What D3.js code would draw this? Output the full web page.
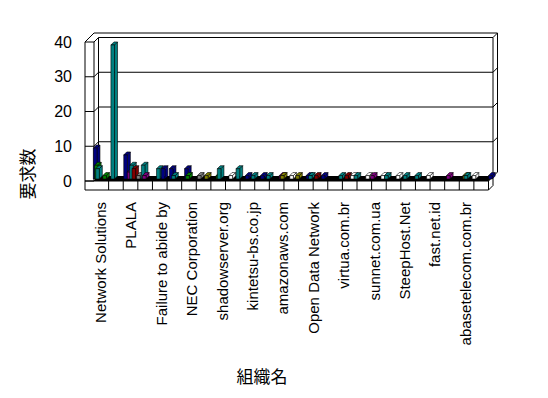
<!DOCTYPE html>
<html>
<head>
<meta charset="utf-8">
<script src="https://cdn.jsdelivr.net/npm/d3@7"></script>
<style>
body { margin: 0; background: #fff; }
text { font-family: "Liberation Sans", Arial, sans-serif; fill: #000; }
.cjk { font-family: "Noto Sans CJK JP", sans-serif; }
</style>
</head>
<body>
<svg id="chart" width="548" height="398"></svg>
<script>
// organisations (only every other name is printed on the axis, like the original)
var orgNames = ["Network Solutions", "", "PLALA", "", "Failure to abide by", "", "NEC Corporation", "",
  "shadowserver.org", "", "kintetsu-bs.co.jp", "", "amazonaws.com", "", "Open Data Network", "",
  "virtua.com.br", "", "sunnet.com.ua", "", "SteepHost.Net", "", "fast.net.id", "",
  "abasetelecom.com.br", "", ""];
var yTicks = [0, 10, 20, 30, 40];

var seriesNames = ["s1", "s2", "s3", "s4", "s5", "s6", "s7", "s8", "s9", "s10", "s11"];
var seriesColors = ["#808080", "#ffffff", "#000080", "#008000", "#008080", "#800080",
  "#808000", "#008080", "#000080", "#800000", "#008000"];

var s1  = [0,0,0,1,0,0,0,1,0,0,0,0,0,0,0,0,0,0,0,0,0,0,0,0,0,0,0];
var s2  = [0,0,0,0,0,0,0,0,0,1,0,0,0,1,0,0,0,1,1,1,1,0,1,0,0,1,0];
var s3  = [9,0,7,0,0,3,3,0,0,0,1,1,0,0,1,1,0,0,0,0,0,0,0,0,0,0,1];
var s4  = [4,0,0,0,0,0,1,0,1,0,0,0,0,0,0,0,0,0,0,0,0,0,0,0,0,0,0];
var s5  = [3,39,0,4,3,1,0,0,3,0,0,0,0,0,1,0,1,1,0,1,0,1,0,0,0,0,0];
var s6  = [0,0,2,1,0,0,0,0,0,0,0,0,1,0,0,0,0,0,1,0,0,0,0,1,0,0,0];
var s7  = [0,0,0,0,0,0,0,1,0,0,0,0,1,1,0,0,0,0,0,0,0,0,0,0,1,0,0];
var s8  = [0,0,4,0,0,0,0,0,0,3,1,1,0,0,0,0,0,0,0,0,1,0,0,0,1,0,0];
var s9  = [0,0,0,0,3,0,0,0,0,0,0,0,0,0,0,0,0,0,0,0,0,0,0,0,0,0,0];
var s10 = [0,0,3,0,0,0,0,0,0,0,0,0,0,0,1,0,1,0,0,0,0,0,0,0,0,0,0];
var s11 = [1,0,0,0,0,0,0,0,0,0,0,0,0,0,0,0,0,0,0,0,0,0,0,0,0,0,0];
var seriesValues = [s1, s2, s3, s4, s5, s6, s7, s8, s9, s10, s11];

var svg = d3.select("#chart");
var idx = d3.range(orgNames.length);

// depth offset of the 3d box
var dx = 4.5, dy = -4.5;
// front plane of the box and back wall
var yFront = d3.scaleLinear().domain([0, 40]).range([181, 42]);
var yBack = d3.scaleLinear().domain([0, 40]).range([181 + dy, 42 + dy]);
var yBar = d3.scaleLinear().domain([0, 40]).range([179, 41.5]);
var xFloor = d3.scaleBand().domain(idx).range([94, 488.5]);
var xBar = d3.scaleBand().domain(idx).range([91, 501.4]);
var xInner = d3.scaleBand().domain(seriesNames).range([0, 13]);

var leftOut = 85, leftIn = 94, backL = leftIn + dx, backR = 488.5 + dx;
var frame = svg.append("g").attr("fill", "none").attr("stroke", "#000").attr("stroke-width", 1);

function poly(pts) { return "M" + pts.map(function(p){ return p.join(","); }).join("L") + "Z"; }
function line(pts) { return "M" + pts.map(function(p){ return p.join(","); }).join("L"); }

// back wall face
svg.insert("path", "g").attr("d", poly([[backL, yBack(40)], [backR, yBack(40)], [backR, yBack(0)], [backL, yBack(0)]]))
  .attr("fill", "#fff");

// floor top (dark)
svg.append("path")
  .attr("d", poly([[leftIn, yFront(0)], [488.5, yFront(0)], [backR, yBack(0)], [backL, yBack(0)]]))
  .attr("fill", "#000").attr("stroke", "#000");

// gridlines on back wall + wall thickness on the right
yTicks.forEach(function(v){
  frame.append("path").attr("d", line([[backL, yBack(v)], [backR, yBack(v)], [backR + dx, yBack(v) + dy]]));
  // left wall ticks
  frame.append("path").attr("d", line([[leftOut, yFront(v)], [leftIn, yFront(v)], [backL, yBack(v)]]));
});

// left wall
frame.append("path").attr("d", line([[leftOut, 190], [leftOut, yFront(40)], [leftOut + 2 * dx, yFront(40) + 2 * dy]]));
frame.append("path").attr("d", line([[leftIn, yFront(0)], [leftIn, yFront(40)]]));
frame.append("path").attr("d", line([[backL, yBack(0)], [backL, yBack(40)]]));
// top of back wall
frame.append("path").attr("d", line([[leftOut + 2 * dx, yFront(40) + 2 * dy], [backR + dx, yBack(40) + dy]]));
frame.append("path").attr("d", line([[backR, yBack(0)], [backR, yBack(40)]]));
frame.append("path").attr("d", line([[backR + dx, yBack(0) + dy], [backR + dx, yBack(40) + dy]]));

// floor slab front with category ticks
frame.append("path").attr("d", line([[leftOut, 190], [488.5, 190], [488.5, yFront(0)]]));
frame.append("path").attr("d", line([[488.5, 190], [backR, 190 + dy], [backR, yBack(0)]]));
frame.append("path").attr("d", line([[leftOut, yFront(0)], [leftIn, yFront(0)]]));
idx.forEach(function(i){
  var x = xFloor(i) + xFloor.bandwidth();
  frame.append("line").attr("x1", x).attr("x2", x).attr("y1", yFront(0)).attr("y2", 190);
});

// bars
var bw = 3.6, bdx = 3, bdy = -3;
var bars = svg.append("g").attr("stroke", "#000").attr("stroke-width", 0.6).attr("stroke-linejoin", "round");
idx.forEach(function(i){
  seriesNames.forEach(function(name, k){
    var v = seriesValues[k][i];
    if (!v) return;
    var x0 = xBar(i) + xInner(name);
    var yb = yBar(0), yt = yBar(v);
    var g = bars.append("g").attr("fill", seriesColors[k]);
    g.append("path").attr("d", poly([[x0 + bw, yb], [x0 + bw + bdx, yb + bdy], [x0 + bw + bdx, yt + bdy], [x0 + bw, yt]]));
    g.append("path").attr("d", poly([[x0, yt], [x0 + bw, yt], [x0 + bw + bdx, yt + bdy], [x0 + bdx, yt + bdy]]));
    g.append("path").attr("d", poly([[x0, yb], [x0 + bw, yb], [x0 + bw, yt], [x0, yt]]));
  });
});

// y tick labels
svg.append("g").selectAll("text").data(yTicks).enter().append("text")
  .attr("x", 72).attr("y", function(d){ return yFront(d) + 5.5; })
  .attr("text-anchor", "end").style("font-size", "16px")
  .text(function(d){ return d; });

// category labels, every other one
svg.append("g").selectAll("text").data(idx.filter(function(i){ return i % 2 === 0 && orgNames[i]; }))
  .enter().append("text")
  .attr("transform", function(i){
    var cx = xBar(i) + xBar.bandwidth() / 2 + 2 + 5.4;
    return "translate(" + cx + ",202) rotate(-90)";
  })
  .attr("text-anchor", "end").style("font-size", "15px")
  .text(function(i){ return orgNames[i]; });

// axis titles
svg.append("text").attr("class", "cjk")
  .attr("transform", "translate(34,174) rotate(-90)")
  .attr("text-anchor", "middle").style("font-size", "17px").text("要求数");
svg.append("text").attr("class", "cjk")
  .attr("x", 262).attr("y", 383)
  .attr("text-anchor", "middle").style("font-size", "17px").text("組織名");
</script>
</body>
</html>
